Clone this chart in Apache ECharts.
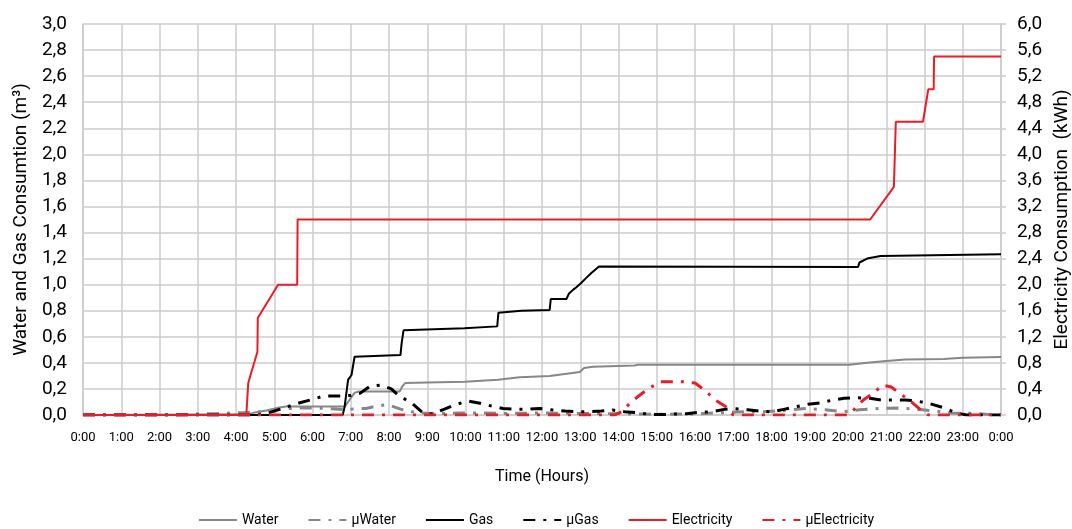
<!DOCTYPE html>
<html>
<head>
<meta charset="utf-8">
<script src="https://cdn.jsdelivr.net/npm/echarts@6/dist/echarts.min.js"></script>
<style>
  html, body { margin: 0; padding: 0; background: #fff; }
  #main { width: 1072px; height: 529px; }
</style>
</head>
<body>
<div id="main"></div>
<script>
// 数据：[小时, 数值]
const water = [[0,0],[4.3,0.005],[4.5,0.02],[4.8,0.035],[5.1,0.055],[5.3,0.065],[6.85,0.065],[7.0,0.13],[7.1,0.17],[7.2,0.18],[8.28,0.18],[8.35,0.22],[8.42,0.245],[9.0,0.25],[9.98,0.255],[10.0,0.265],[10.85,0.27],[10.88,0.285],[11.42,0.29],[12.2,0.3],[12.99,0.33],[13.1,0.36],[13.33,0.37],[14.42,0.38],[14.5,0.385],[20.04,0.385],[20.5,0.4],[21.0,0.415],[21.5,0.425],[22.5,0.43],[23.0,0.44],[24,0.445]]
const muWater = [[0,0],[2.5,0],[3.0,0.008],[3.5,0.01],[4.0,0.018],[4.2,0.018],[4.7,0.025],[5.05,0.04],[5.4,0.05],[5.8,0.055],[6.4,0.05],[6.9,0.04],[7.15,0.05],[7.4,0.05],[7.7,0.07],[7.97,0.08],[8.3,0.045],[8.6,0.025],[8.9,0.015],[9.3,0.01],[9.8,0.015],[10.5,0.015],[11,0.012],[12,0.015],[13,0.012],[14,0.01],[15,0.005],[16,0.008],[16.5,0.015],[17.3,0.025],[17.8,0.025],[18.4,0.037],[18.9,0.05],[19.4,0.04],[19.87,0.025],[20.3,0.04],[20.8,0.05],[21.3,0.053],[21.8,0.045],[22.3,0.03],[22.7,0.015],[23.3,0.013],[23.6,0.005],[24,0]]
const gas = [[0,0],[6.79,0],[6.84,0.064],[6.93,0.27],[7.02,0.307],[7.1,0.447],[7.15,0.46],[8.3,0.46],[8.33,0.55],[8.38,0.65],[9.97,0.665],[9.99,0.68],[10.83,0.68],[10.86,0.785],[11.46,0.8],[12.2,0.805],[12.23,0.89],[12.64,0.89],[12.7,0.93],[12.81,0.96],[12.9,0.98],[13.03,1.015],[13.15,1.05],[13.29,1.09],[13.49,1.14],[20.26,1.135],[20.3,1.17],[20.5,1.2],[20.85,1.22],[20.9,1.233],[24,1.233]]
const muGas = [[0,0],[4.5,0],[4.8,0.01],[5.2,0.05],[5.67,0.094],[6.0,0.12],[6.3,0.146],[6.67,0.146],[7.0,0.15],[7.24,0.166],[7.5,0.22],[7.8,0.23],[8.06,0.2],[8.25,0.15],[8.6,0.09],[8.85,0.025],[9.0,0.005],[9.15,0.01],[9.45,0.045],[9.74,0.08],[10.06,0.107],[10.38,0.09],[10.66,0.07],[10.98,0.05],[11.34,0.045],[11.63,0.045],[11.94,0.05],[12.25,0.04],[12.6,0.03],[12.9,0.025],[13.2,0.025],[13.55,0.03],[13.85,0.038],[14.16,0.025],[14.5,0.018],[14.8,0.005],[15.15,0.003],[15.5,0.008],[15.78,0.01],[16.1,0.02],[16.43,0.025],[16.8,0.045],[17.0,0.05],[17.38,0.04],[17.7,0.03],[18.0,0.023],[18.35,0.045],[18.65,0.064],[18.95,0.082],[19.3,0.094],[19.6,0.115],[19.9,0.128],[20.2,0.133],[20.57,0.128],[20.87,0.115],[21.2,0.115],[21.5,0.115],[21.8,0.107],[22.1,0.09],[22.5,0.056],[22.8,0.018],[23.1,0],[24,0]]
const electricity = [[0,0],[4.27,0],[4.32,0.49],[4.56,0.97],[4.57,1.49],[5.1,2.0],[5.6,2.0],[5.61,3.0],[20.58,3.0],[21.2,3.5],[21.25,4.5],[21.96,4.5],[22.1,5.0],[22.24,5.0],[22.25,5.5],[24,5.5]]
const muElectricity = [[0,0],[13.9,0],[14.08,0.05],[14.3,0.18],[14.5,0.28],[14.8,0.41],[15.1,0.51],[15.7,0.51],[16.0,0.49],[16.3,0.36],[16.5,0.24],[16.8,0.13],[17.0,0],[20.0,0],[20.17,0.09],[20.4,0.23],[20.65,0.33],[20.9,0.46],[21.13,0.43],[21.4,0.31],[21.6,0.23],[21.9,0.08],[22.1,0],[24,0]]

const FONT = "Roboto, 'Liberation Sans', sans-serif"
const GRID_COLOR = '#cccccc'
const dashDot = [12, 8, 3, 8]

const comma = (v) => v.toFixed(1).replace('.', ',')

const myChart = echarts.init(document.getElementById('main'))

const lineSeries = (name, data, color, dashed, axis) => ({
  name: name,
  type: 'line',
  data: data,
  yAxisIndex: axis,
  symbol: 'none',
  animation: false,
  lineStyle: {
    color: color,
    width: dashed ? 3 : 2,
    type: dashed ? dashDot : 'solid',
    cap: 'butt'
  },
  itemStyle: { color: color }
})

const options = {
  textStyle: { fontFamily: FONT },
  grid: { left: 83, right: 71, top: 24, bottom: 114, containLabel: false, outerBoundsMode: 'none' },
  legend: {
    bottom: 2,
    left: 'center',
    padding: 0,
    itemWidth: 38,
    itemHeight: 10,
    itemGap: 29,
    itemStyle: { opacity: 0 }, // 图例不显示圆点
    textStyle: { fontFamily: FONT, fontSize: 14, color: '#000' },
    data: ['Water', 'μWater', 'Gas', 'μGas', 'Electricity', 'μElectricity']
  },
  xAxis: {
    type: 'value',
    min: 0,
    max: 24,
    interval: 1,
    name: 'Time (Hours)',
    nameLocation: 'middle',
    nameGap: 54,
    nameTextStyle: { fontFamily: FONT, fontSize: 16, color: '#000' },
    axisLine: { show: true, lineStyle: { color: GRID_COLOR, width: 1.5 } },
    axisTick: { show: false },
    axisLabel: {
      margin: 16,
      fontFamily: FONT,
      fontSize: 13,
      color: '#000',
      formatter: (v) => (v % 24) + ':00'
    },
    splitLine: { show: true, lineStyle: { color: GRID_COLOR, width: 1.5 } }
  },
  yAxis: [{
    type: 'value',
    min: 0,
    max: 3,
    interval: 0.2,
    name: 'Water and Gas Consumtion (m³)',
    nameLocation: 'middle',
    nameGap: 51,
    nameTextStyle: { fontFamily: FONT, fontSize: 19, color: '#000' },
    axisLine: { show: true, lineStyle: { color: GRID_COLOR, width: 1.5 } },
    axisTick: { show: false },
    axisLabel: { margin: 16, fontFamily: FONT, fontSize: 19, color: '#000', formatter: comma },
    splitLine: { show: true, lineStyle: { color: GRID_COLOR, width: 1.5 } }
  }, {
    type: 'value',
    min: 0,
    max: 6,
    interval: 0.4,
    name: 'Electricity Consumption  (kWh)',
    nameLocation: 'middle',
    nameGap: 50,
    nameTextStyle: { fontFamily: FONT, fontSize: 19, color: '#000' },
    axisLine: { show: true, lineStyle: { color: GRID_COLOR, width: 1.5 } },
    axisTick: { show: true, length: 5, lineStyle: { color: GRID_COLOR, width: 1.5 } },
    axisLabel: { margin: 16, fontFamily: FONT, fontSize: 19, color: '#000', formatter: comma },
    splitLine: { show: false }
  }],
  series: [
    lineSeries('Water', water, '#878787', false, 0),
    lineSeries('μWater', muWater, '#878787', true, 0),
    lineSeries('Gas', gas, '#000000', false, 0),
    lineSeries('μGas', muGas, '#000000', true, 0),
    lineSeries('Electricity', electricity, '#ec1c24', false, 1),
    lineSeries('μElectricity', muElectricity, '#ec1c24', true, 1)
  ]
}

myChart.setOption(options)
</script>
</body>
</html>
